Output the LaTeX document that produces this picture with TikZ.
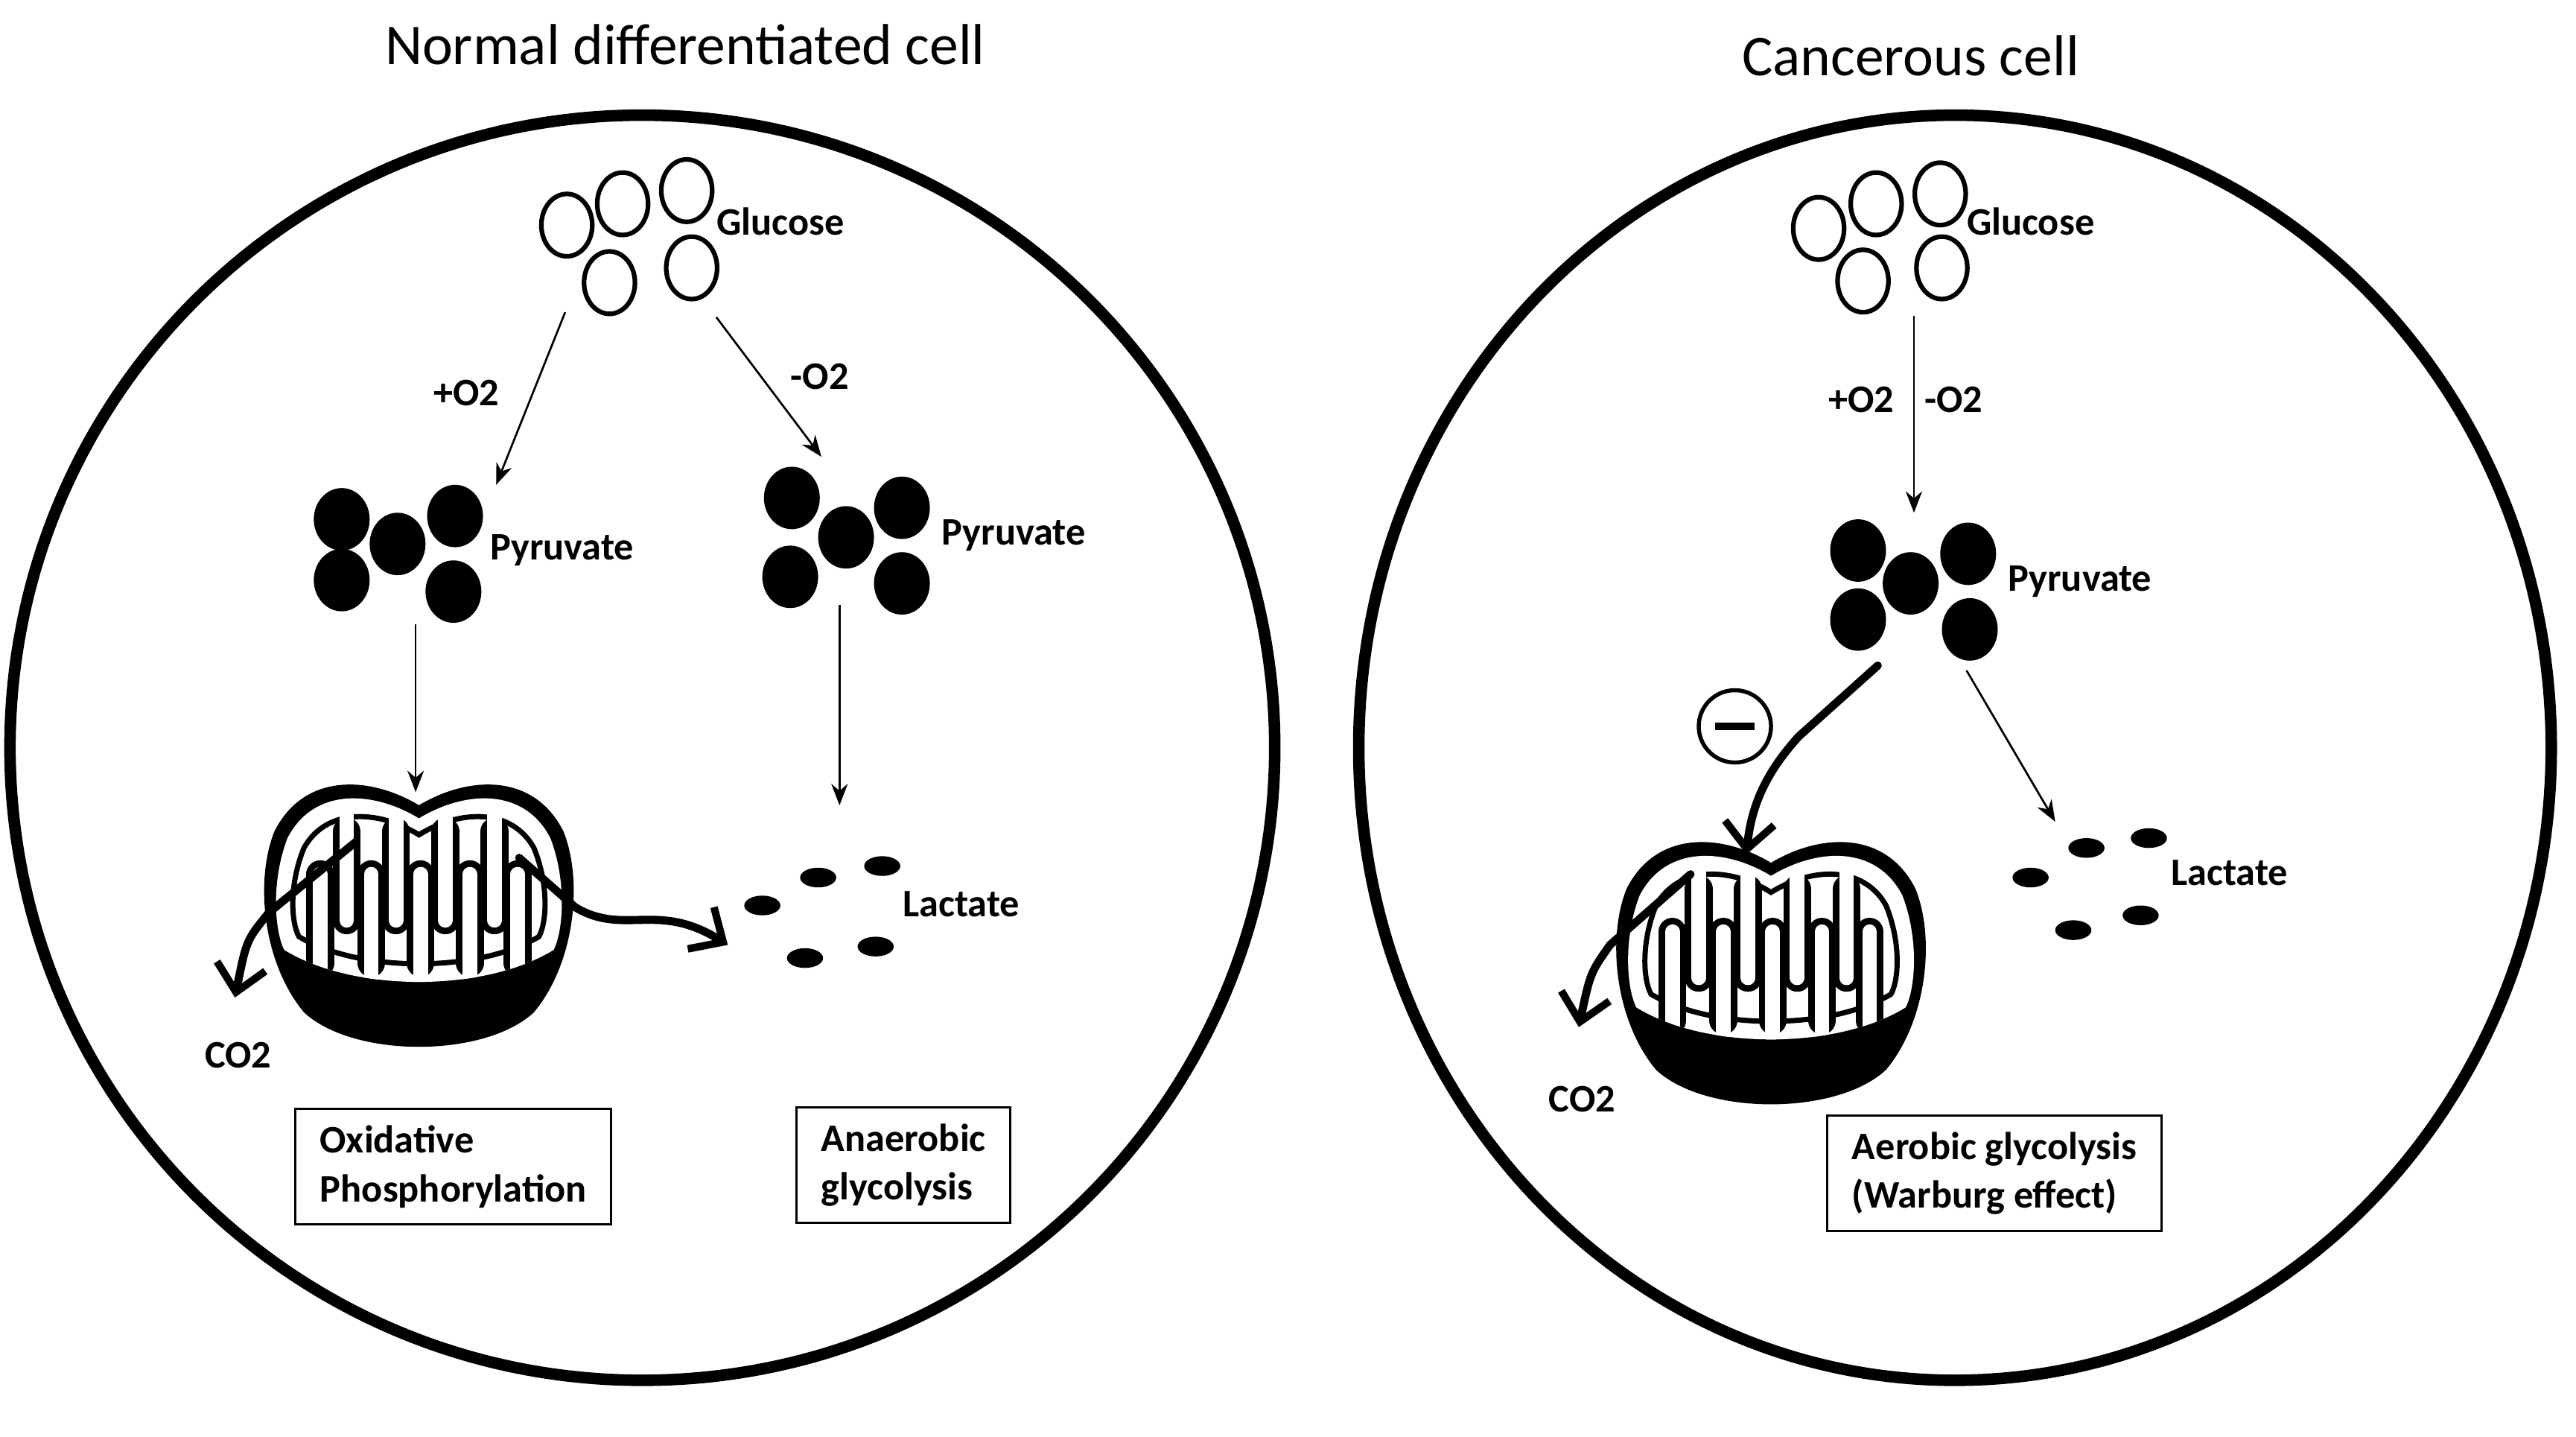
\documentclass[tikz,border=0pt]{standalone}
\usepackage{fontspec}
\setmainfont{Carlito}
\usetikzlibrary{arrows.meta,shapes.geometric}
\tikzset{
  cell/.style = {draw, line width=4pt, ellipse, inner sep=0},
  glu/.style = {draw, line width=1.6pt, ellipse, fill=white, minimum width=0.62cm, minimum height=0.76cm, inner sep=0},
  pyr/.style = {fill, ellipse, minimum width=0.68cm, minimum height=0.76cm, inner sep=0},
  lac/.style = {fill, ellipse, minimum width=0.44cm, minimum height=0.24cm, inner sep=0},
  lbl/.style = {font=\bfseries\fontsize{13.5}{15}\selectfont},
  title/.style = {font=\fontsize{20}{24}\selectfont},
  box/.style = {draw, line width=0.8pt, align=left, font=\bfseries\fontsize{13.5}{17}\selectfont, inner xsep=0.3cm, inner ysep=0.2cm},
  thin/.style = {-{Stealth[length=2.6mm,width=2mm]}, line width=0.7pt},
  fat/.style = {-{Straight Barb[length=3.2mm,width=6mm,line width=2.6pt]}, line width=2.8pt, line cap=round},
  mito/.pic = {
    \fill (0,-66) .. controls (30,-84) and (70,-86) .. (88,-50) .. controls (100,-20) and (95,30) .. (70,60)
      .. controls (40,88) and (-40,88) .. (-70,60) .. controls (-95,30) and (-100,-20) .. (-88,-50)
      .. controls (-70,-86) and (-30,-84) .. cycle;
    \fill[white] (0,-58) .. controls (28,-75) and (64,-77) .. (80,-46) .. controls (90,-20) and (88,10) .. (82,22)
      .. controls (40,48) and (-40,48) .. (-82,22) .. controls (-88,10) and (-90,-20) .. (-80,-46)
      .. controls (-64,-77) and (-28,-75) .. cycle;
    \begin{scope}
      \clip (0,-58) .. controls (28,-75) and (64,-77) .. (80,-46) .. controls (90,-20) and (88,10) .. (82,22)
        .. controls (40,48) and (-40,48) .. (-82,22) .. controls (-88,10) and (-90,-20) .. (-80,-46)
        .. controls (-64,-77) and (-28,-75) .. cycle;
      \draw[line width=1.8pt] (0,-48) .. controls (24,-63) and (56,-65) .. (70,-40) .. controls (79,-18) and (78,5) .. (73,14)
        .. controls (36,36) and (-36,36) .. (-73,14) .. controls (-78,5) and (-79,-18) .. (-70,-40)
        .. controls (-56,-65) and (-24,-63) .. cycle;
      \foreach \x in {-44,-14,16,46} {
        \draw[line width=0.34cm, line cap=round] (\x,-50) -- (\x,4);
        \draw[white, line width=0.18cm, line cap=round] (\x,-60) -- (\x,4);
      }
      \foreach \x in {-60,-29,1,31,60} {
        \draw[line width=0.34cm, line cap=round] (\x,30) -- (\x,-24);
        \draw[white, line width=0.18cm, line cap=round] (\x,40) -- (\x,-24);
      }
    \end{scope}
  }
}
\begin{document}
\begin{tikzpicture}[x=0.02cm, y=-0.02cm]
  \useasboundingbox (0,0) rectangle (1568,874);

  % cells
  \node[cell, minimum width=15.4cm, minimum height=15.4cm] (cellN) at (391,455) {};
  \node[cell, minimum width=14.52cm, minimum height=15.4cm] (cellC) at (1190,455) {};
  \node[title] (tN) at (417,27) {Normal differentiated cell};
  \node[title] (tC) at (1163,34) {Cancerous cell};

  % normal cell: glucose
  \node[glu] (g1) at (345,137) {};
  \node[glu] (g2) at (379,124) {};
  \node[glu] (g3) at (418,116) {};
  \node[glu] (g4) at (371,172) {};
  \node[glu] (g5) at (421,163) {};
  \node[lbl] (gluN) at (475,135) {Glucose};

  % normal cell: pyruvate
  \node[pyr] (pa1) at (208,316) {};
  \node[pyr] (pa2) at (242,331) {};
  \node[pyr] (pa3) at (277,314) {};
  \node[pyr] (pa4) at (208,353) {};
  \node[pyr] (pa5) at (276,360) {};
  \node[lbl] (pyrA) at (342,335) {Pyruvate};
  \node[pyr] (pb1) at (482,303) {};
  \node[pyr] (pb2) at (515,327) {};
  \node[pyr] (pb3) at (549,309) {};
  \node[pyr] (pb4) at (481,351) {};
  \node[pyr] (pb5) at (549,355) {};
  \node[lbl] (pyrB) at (617,326) {Pyruvate};

  \coordinate (gA) at (344,190);
  \coordinate (pA) at (302,295);
  \coordinate (gB) at (436,193);
  \coordinate (pB) at (500,278);
  \draw[thin] (gA) -- (pA);
  \draw[thin] (gB) -- (pB);
  \node[lbl] (plusN) at (284,239) {+O2};
  \node[lbl] (minusN) at (499,229) {-O2};

  % normal cell: mitochondrion and lactate
  \pic at (255,556) {mito};
  \coordinate (mA) at (253,482);
  \coordinate (lB) at (511,490);
  \draw[thin] (253,380) -- (mA);
  \draw[thin] (511,368) -- (lB);
  \node[lac] (la1) at (464,551) {};
  \node[lac] (la2) at (498,534) {};
  \node[lac] (la3) at (537,527) {};
  \node[lac] (la4) at (490,583) {};
  \node[lac] (la5) at (533,576) {};
  \node[lbl] (lacN) at (585,550) {Lactate};
  \coordinate (inA) at (217,512);
  \coordinate (outA) at (143,607);
  \coordinate (inB) at (316,522);
  \coordinate (outB) at (443,575);
  \draw[fat] (inA) -- (164,555) .. controls (150,572) .. (outA);
  \draw[fat] (inB) -- (350,552) .. controls (380,570) and (400,548) .. (outB);
  \node[lbl] (co2N) at (145,642) {CO2};

  \node[box] (oxph) at (276,710) {Oxidative\\Phosphorylation};
  \node[box] (anae) at (550,709) {Anaerobic\\glycolysis};

  % cancerous cell: glucose
  \node[glu] (h1) at (1107,139) {};
  \node[glu] (h2) at (1142,124) {};
  \node[glu] (h3) at (1181,118) {};
  \node[glu] (h4) at (1134,171) {};
  \node[glu] (h5) at (1182,163) {};
  \node[lbl] (gluC) at (1236,135) {Glucose};

  \node[pyr] (pc1) at (1131,335) {};
  \node[pyr] (pc2) at (1163,355) {};
  \node[pyr] (pc3) at (1198,337) {};
  \node[pyr] (pc4) at (1131,377) {};
  \node[pyr] (pc5) at (1199,383) {};
  \node[lbl] (pyrC) at (1266,354) {Pyruvate};

  \coordinate (gC) at (1165,192);
  \coordinate (pC) at (1165,312);
  \draw[thin] (gC) -- (pC);
  \node[lbl] (plusC) at (1133,243) {+O2};
  \node[lbl] (minusC) at (1189,243) {-O2};

  % cancerous cell: mitochondrion and lactate
  \pic at (1078,591) {mito};
  \node[lac] (lc1) at (1236,534) {};
  \node[lac] (lc2) at (1270,516) {};
  \node[lac] (lc3) at (1308,510) {};
  \node[lac] (lc4) at (1262,566) {};
  \node[lac] (lc5) at (1303,557) {};
  \node[lbl] (lacC) at (1357,531) {Lactate};
  \coordinate (pD) at (1197,408);
  \coordinate (lD) at (1251,500);
  \draw[thin] (pD) -- (lD);

  \coordinate (pE) at (1143,405);
  \coordinate (mE) at (1063,520);
  \draw[fat] (pE) -- (1095,448) .. controls (1075,470) and (1066,490) .. (mE);
  \node[draw, circle, line width=1.4pt, minimum size=0.88cm, inner sep=0] (inhib) at (1056,442) {};
  \draw[line width=2.4pt] ([xshift=-0.24cm]inhib.center) -- ([xshift=0.24cm]inhib.center);

  \coordinate (inC) at (1029,532);
  \coordinate (outC) at (961,625);
  \draw[fat] (inC) -- (980,575) .. controls (968,592) .. (outC);
  \node[lbl] (co2C) at (963,669) {CO2};

  \node[box] (warb) at (1214,714) {Aerobic glycolysis\\(Warburg effect)};
\end{tikzpicture}
\end{document}
